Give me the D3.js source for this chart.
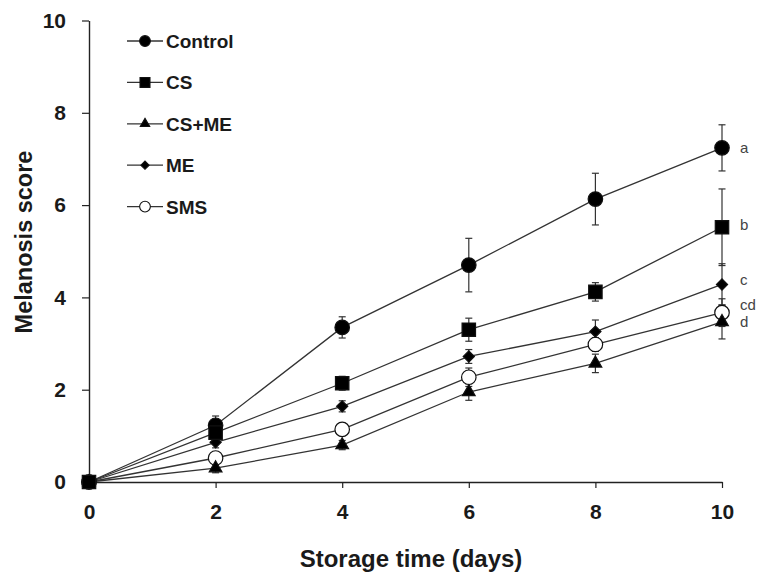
<!DOCTYPE html>
<html>
<head>
<meta charset="utf-8">
<script src="https://cdn.jsdelivr.net/npm/d3@7"></script>
<style>
  body { margin: 0; background: #fff; }
  text { font-family: "Liberation Sans", Arial, sans-serif; }
</style>
</head>
<body>
<div id="chart"></div>
<script>
// storage days
let days = [0, 2, 4, 6, 8, 10]

// mean melanosis scores
let control = [0, 1.23, 3.35, 4.7, 6.13, 7.24]
let cs = [0, 1.07, 2.14, 3.3, 4.12, 5.52]
let csme = [0, 0.3, 0.8, 1.95, 2.57, 3.47]
let me = [0, 0.86, 1.64, 2.72, 3.26, 4.28]
let sms = [0, 0.52, 1.14, 2.27, 2.98, 3.67]

// error bars (+/-)
let controlErr = [0, 0.2, 0.23, 0.58, 0.56, 0.5]
let csErr = [0, 0.2, 0.15, 0.25, 0.2, 0.83]
let csmeErr = [0, 0.1, 0.1, 0.18, 0.2, 0.37]
let meErr = [0, 0.12, 0.12, 0.15, 0.25, 0.45]
let smsErr = [0, 0.12, 0.12, 0.2, 0.15, 0.3]

let seriesNames = ['Control', 'CS', 'CS+ME', 'ME', 'SMS']
let letters = ['a', 'b', 'd', 'c', 'cd']
let xTicks = [0, 2, 4, 6, 8, 10]
let yTicks = [0, 2, 4, 6, 8, 10]

let series = [
  {name: seriesNames[0], values: control, err: controlErr, shape: 'circle', fill: '#000', letter: letters[0], dy: 0},
  {name: seriesNames[1], values: cs, err: csErr, shape: 'square', fill: '#000', letter: letters[1], dy: -2},
  {name: seriesNames[2], values: csme, err: csmeErr, shape: 'triangle', fill: '#000', letter: letters[2], dy: 0},
  {name: seriesNames[3], values: me, err: meErr, shape: 'diamond', fill: '#000', letter: letters[3], dy: -4},
  {name: seriesNames[4], values: sms, err: smsErr, shape: 'circle', fill: '#fff', letter: letters[4], dy: -8}
]
// the order the markers get stacked in (CS square ends up on top at the origin)
let drawOrder = [4, 2, 3, 0, 1]

let margin = {left: 89, right: 37, top: 20.5, bottom: 96}
let width = 759 - margin.left - margin.right
let height = 578 - margin.top - margin.bottom

let svg = d3.select('#chart').append('svg')
  .attr('width', 759)
  .attr('height', 578)

let g = svg.append('g')
  .attr('transform', 'translate(' + margin.left + ',' + margin.top + ')')

let x = d3.scaleLinear().domain([0, 10]).range([0, width])
let y = d3.scaleLinear().domain([0, 10]).range([height, 0])

let ink = '#222'

// axes
let xAxis = g.append('g')
  .attr('transform', 'translate(0,' + height + ')')
  .call(d3.axisBottom(x).tickValues(xTicks).tickSize(6).tickPadding(16).tickSizeOuter(0))
let yAxis = g.append('g')
  .call(d3.axisLeft(y).tickValues(yTicks).tickSize(7).tickPadding(16).tickSizeOuter(0))

;[xAxis, yAxis].forEach(function(a) {
  a.select('.domain').attr('stroke', ink).attr('stroke-width', 1.4)
  a.selectAll('.tick line').attr('stroke', ink).attr('stroke-width', 1.2)
  a.selectAll('.tick text')
    .attr('font-family', '"Liberation Sans", Arial, sans-serif')
    .attr('font-size', '21px')
    .attr('font-weight', 'bold')
    .attr('fill', '#1a1a1a')
})

// axis titles
svg.append('text')
  .attr('x', 411)
  .attr('y', 567)
  .attr('text-anchor', 'middle')
  .attr('font-size', '24px')
  .attr('font-weight', 'bold')
  .attr('fill', '#1a1a1a')
  .text('Storage time (days)')

svg.append('text')
  .attr('transform', 'rotate(-90)')
  .attr('x', -242)
  .attr('y', 32)
  .attr('text-anchor', 'middle')
  .attr('font-size', '23.5px')
  .attr('font-weight', 'bold')
  .attr('fill', '#1a1a1a')
  .text('Melanosis score')

const symbolFor = function(shape, big) {
  let k = big ? 1 : 0.55
  if (shape === 'square') return d3.symbol().type(d3.symbolSquare).size(180 * k)
  if (shape === 'triangle') return d3.symbol().type(d3.symbolTriangle).size(70 * k)
  if (shape === 'diamond') return d3.symbol().type(d3.symbolSquare).size(62 * k)
  return d3.symbol().type(d3.symbolCircle).size(165 * k)
}

const placeMarker = function(shape, px, py) {
  let t = 'translate(' + px + ',' + py + ')'
  if (shape === 'diamond') t += ' rotate(45)'
  return t
}

let line = d3.line()
  .x(function(d) { return x(d.day) })
  .y(function(d) { return y(d.v) })

const pointsOf = function(s) {
  return days.map(function(d, i) { return {day: d, v: s.values[i], e: s.err[i]} })
}

let lineLayer = g.append('g')
let markLayer = g.append('g')

series.forEach(function(s) {
  let pts = pointsOf(s)

  lineLayer.append('path')
    .attr('d', line(pts))
    .attr('fill', 'none')
    .attr('stroke', '#333')
    .attr('stroke-width', 1.3)

  pts.filter(function(p) { return p.e > 0 }).forEach(function(p) {
    let cx = x(p.day)
    lineLayer.append('line')
      .attr('x1', cx).attr('x2', cx)
      .attr('y1', y(p.v + p.e)).attr('y2', y(p.v - p.e))
      .attr('stroke', '#333').attr('stroke-width', 1.2)
    ;[p.v + p.e, p.v - p.e].forEach(function(v) {
      lineLayer.append('line')
        .attr('x1', cx - 3.5).attr('x2', cx + 3.5)
        .attr('y1', y(v)).attr('y2', y(v))
        .attr('stroke', '#333').attr('stroke-width', 1.2)
    })
  })

  // significance letter
  g.append('text')
    .attr('x', x(10) + 18)
    .attr('y', y(s.values[5]) + 5 + s.dy)
    .attr('font-size', '15px')
    .attr('fill', '#444')
    .text(s.letter)
})

drawOrder.forEach(function(k) {
  let s = series[k]
  markLayer.selectAll(null)
    .data(pointsOf(s))
    .enter()
    .append('path')
    .attr('d', symbolFor(s.shape, true))
    .attr('transform', function(d) { return placeMarker(s.shape, x(d.day), y(d.v)) })
    .attr('fill', s.fill)
    .attr('stroke', '#111')
    .attr('stroke-width', 1.2)
})

// legend
let legend = svg.append('g')
  .attr('transform', 'translate(127,41)')

series.forEach(function(s, i) {
  let row = legend.append('g').attr('transform', 'translate(0,' + (i * 41.4) + ')')
  row.append('line')
    .attr('x1', 0).attr('x2', 36)
    .attr('y1', 0).attr('y2', 0)
    .attr('stroke', '#333').attr('stroke-width', 1.3)
  row.append('path')
    .attr('d', symbolFor(s.shape, false)())
    .attr('transform', placeMarker(s.shape, 18, 0))
    .attr('fill', s.fill)
    .attr('stroke', '#111')
    .attr('stroke-width', 1.1)
  row.append('text')
    .attr('x', 39)
    .attr('y', 7)
    .attr('font-size', '19px')
    .attr('font-weight', 'bold')
    .attr('fill', '#1a1a1a')
    .text(s.name)
})
</script>
</body>
</html>
